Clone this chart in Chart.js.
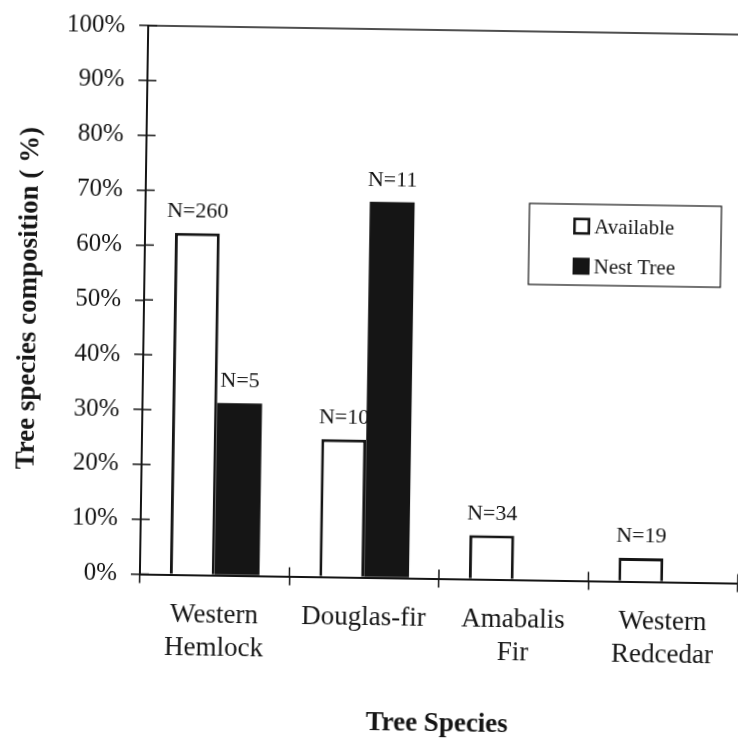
<!DOCTYPE html>
<html><head><meta charset="utf-8">
<script src="https://cdn.jsdelivr.net/npm/chart.js@4/dist/chart.umd.min.js"></script>
<style>
html,body{margin:0;padding:0;background:#fff;overflow:hidden;width:738px;height:743px;}
#wrap{position:absolute;left:0;top:0;width:745px;height:743px;transform:rotate(0.87deg);transform-origin:369px 371px;background:#fff;}
</style></head><body>
<div id="wrap"><canvas id="c" width="745" height="743"></canvas></div>
<script>
const categories = [['Western','Hemlock'],['Douglas-fir'],['Amabalis','Fir'],['Western','Redcedar']];
const seriesNames = ['Available','Nest Tree'];
const availableValues = [62.3, 25.1, 8.0, 4.3];
const nestTreeValues = [31.4, 68.5, 0, 0];
const availableN = ['N=260','N=10','N=34','N=19'];
const nestTreeN = ['N=5','N=11','',''];
const yTickLabels = ['0%','10%','20%','30%','40%','50%','60%','70%','80%','90%','100%'];
const xTitle = 'Tree Species';
const yTitle = 'Tree species composition ( %)';

const SERIF = '"Liberation Serif", "Times New Roman", serif';
const INK = '#151515';

function line(ctx,x1,y1,x2,y2){ctx.beginPath();ctx.moveTo(x1,y1);ctx.lineTo(x2,y2);ctx.stroke();}

const framePlugin = {
  id:'frame',
  afterDatasetsDraw(chart){
    const ctx = chart.ctx, ca = chart.chartArea, ys = chart.scales.y, xs = chart.scales.x;
    ctx.save();
    ctx.strokeStyle = INK; ctx.lineWidth = 1.5;
    ys.ticks.forEach(t => { const p = ys.getPixelForValue(t.value); line(ctx, ca.left, p, ca.left + 9, p); });
    for (let i = 0; i <= categories.length; i++) {
      const p = xs.getPixelForValue(i - 0.5);
      line(ctx, p, ca.bottom, p, ca.bottom - 9);
    }
    line(ctx, ca.left, ca.top, ca.right + 10, ca.top);
    ctx.restore();
  }
};

const nLabelPlugin = {
  id:'nlabels',
  afterDatasetsDraw(chart){
    const ctx = chart.ctx;
    const lists = [availableN, nestTreeN];
    ctx.save();
    ctx.font = '22px ' + SERIF;
    ctx.fillStyle = INK;
    ctx.textAlign = 'center';
    ctx.textBaseline = 'alphabetic';
    lists.forEach((lst, di) => {
      const meta = chart.getDatasetMeta(di);
      meta.data.forEach((el, i) => {
        if (!lst[i]) return;
        ctx.fillText(lst[i], el.x, el.y - 16);
      });
    });
    ctx.restore();
  }
};

const legendPlugin = {
  id:'boxlegend',
  afterDraw(chart){
    const ctx = chart.ctx, ca = chart.chartArea;
    const bx = ca.left + 384, by = ca.top + 172, bw = 192, bh = 81;
    ctx.save();
    ctx.fillStyle = '#fff';
    ctx.fillRect(bx, by, bw, bh);
    ctx.strokeStyle = INK; ctx.lineWidth = 1.2;
    ctx.strokeRect(bx, by, bw, bh);
    const rows = [by + 22, by + 62];
    ctx.font = '21px ' + SERIF;
    ctx.textBaseline = 'middle';
    ctx.textAlign = 'left';
    rows.forEach((ry, i) => {
      const sx = bx + 44, s = 17;
      if (i === 0) {
        ctx.lineWidth = 2.6; ctx.strokeStyle = INK;
        ctx.strokeRect(sx + 1.3, ry - s/2 + 1.3, s - 2.6, s - 2.6);
      } else {
        ctx.fillStyle = INK;
        ctx.fillRect(sx, ry - s/2, s, s);
      }
      ctx.fillStyle = INK;
      ctx.fillText(seriesNames[i], sx + s + 4, ry + 1);
    });
    ctx.restore();
  }
};

new Chart(document.getElementById('c'), {
  type:'bar',
  data:{
    labels: categories,
    datasets:[
      {label: seriesNames[0], data: availableValues, backgroundColor:'#fff', borderColor: INK, borderWidth: 3, borderSkipped:'bottom'},
      {label: seriesNames[1], data: nestTreeValues, backgroundColor: INK, borderColor: INK, borderWidth: 0}
    ]
  },
  options:{
    responsive:false,
    devicePixelRatio:1,
    animation:false,
    layout:{padding:{top:25.5, right:4, bottom:0, left:0}},
    datasets:{bar:{categoryPercentage:0.6, barPercentage:1.0}},
    plugins:{legend:{display:false}, tooltip:{enabled:false}},
    scales:{
      x:{
        afterFit(s){ s.height = 165.5; },
        grid:{display:true, drawOnChartArea:false, drawTicks:true, tickLength:9, color:INK, lineWidth:1.5, offset:true},
        border:{display:true, color:INK, width:2},
        ticks:{color:INK, font:{family:SERIF, size:27, lineHeight:1.22}, padding:15, maxRotation:0, autoSkip:false},
        title:{display:true, text:xTitle, color:INK, font:{family:SERIF, size:27, weight:'bold'}, padding:{top:0, bottom:4}}
      },
      y:{
        min:0, max:100,
        afterFit(s){ s.width = 143; },
        grid:{display:true, drawOnChartArea:false, drawTicks:true, tickLength:9, color:INK, lineWidth:1.5},
        border:{display:true, color:INK, width:2},
        ticks:{stepSize:10, color:INK, padding:14, font:{family:SERIF, size:25}, callback:(v, i) => yTickLabels[i]},
        title:{display:true, text:yTitle, color:INK, font:{family:SERIF, size:27, weight:'bold'}, padding:{top:12, bottom:0}}
      }
    }
  },
  plugins:[framePlugin, nLabelPlugin, legendPlugin]
});
</script>
</body></html>
